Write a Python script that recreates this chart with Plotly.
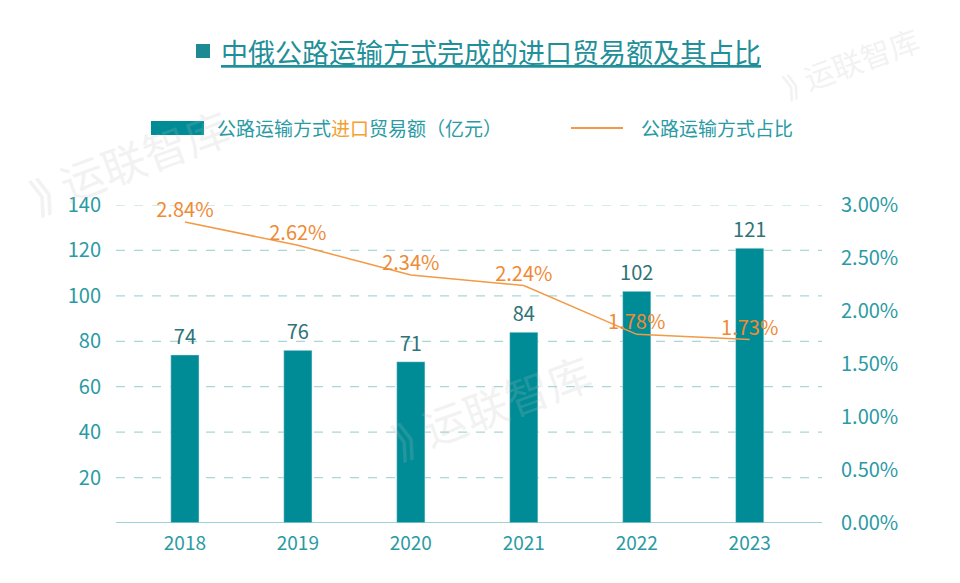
import plotly.graph_objects as go

years = ["2018", "2019", "2020", "2021", "2022", "2023"]
import_value = [74, 76, 71, 84, 102, 121]
road_share = [2.84, 2.62, 2.34, 2.24, 1.78, 1.73]
left_ticks = [20, 40, 60, 80, 100, 120, 140]
right_ticks = [0, 0.5, 1.0, 1.5, 2.0, 2.5, 3.0]

TEAL = "#008c96"
TEXT = "#2a9aa4"
ORANGE = "#f29a45"
LABEL_ORANGE = "#ef8a35"
FONT = "Noto Sans CJK SC"

OFF = 8  # page body margin
L, R, T, B = 116, 822, 205, 523  # screenshot pixel coords of the plot area
W, H = R - L, B - T


def px(x):
    return (x - L) / W


def py(y):
    return (B - y) / H


fig = go.Figure()
fig.add_trace(go.Bar(
    x=years, y=import_value, width=0.25, marker_color=TEAL,
    showlegend=False, yaxis="y", hoverinfo="skip",
))
# bar value labels
fig.add_trace(go.Scatter(
    x=years, y=import_value, mode="markers+text", yaxis="y",
    marker=dict(size=8, color="rgba(0,0,0,0)"),
    text=[str(v) for v in import_value], textposition="top center",
    textfont=dict(color="#2f7378", size=20, family=FONT), cliponaxis=False,
    showlegend=False, hoverinfo="skip",
))
fig.add_trace(go.Scatter(
    x=years, y=road_share, mode="lines+text", yaxis="y2",
    line=dict(color=ORANGE, width=1.5),
    text=[f"{v:.2f}%" for v in road_share], textposition="top center",
    textfont=dict(color=LABEL_ORANGE, size=20, family=FONT), cliponaxis=False,
    showlegend=False,
))

grid_color = "#a8d8d8"
shapes = []
for t in left_ticks:
    shapes.append(dict(type="line", xref="paper", yref="y", x0=0, x1=1, y0=t, y1=t,
                       line=dict(color=grid_color, width=1.2, dash="dash"), layer="below"))
shapes.append(dict(type="line", xref="paper", yref="y", x0=0, x1=1, y0=0, y1=0,
                   line=dict(color="#7cc4c8", width=1.5), layer="above"))
# title square
shapes.append(dict(type="rect", xref="paper", yref="paper",
                   x0=px(196), x1=px(210), y0=py(58), y1=py(44),
                   fillcolor="#1d8a93", line=dict(width=0)))
# custom legend markers
shapes.append(dict(type="rect", xref="paper", yref="paper",
                   x0=px(151), x1=px(204), y0=py(135), y1=py(121),
                   fillcolor=TEAL, line=dict(width=0)))
shapes.append(dict(type="line", xref="paper", yref="paper", x0=px(571), x1=px(623),
                   y0=py(128), y1=py(128), line=dict(color=ORANGE, width=1.8)))
fig.update_layout(shapes=shapes)

annotations = [
    dict(text="<u>中俄公路运输方式完成的进口贸易额及其占比</u>",
         xref="paper", yref="paper", x=px(219), y=py(51), xanchor="left", yanchor="middle",
         showarrow=False, font=dict(size=27, color="#1f8f99", family=FONT)),
    dict(text="公路运输方式<span style='color:#f5a030'>进口</span>贸易额（亿元）",
         xref="paper", yref="paper", x=px(215), y=py(128), xanchor="left", yanchor="middle",
         showarrow=False, font=dict(size=19, color=TEXT, family=FONT)),
    dict(text="公路运输方式占比",
         xref="paper", yref="paper", x=px(639), y=py(128), xanchor="left", yanchor="middle",
         showarrow=False, font=dict(size=19, color=TEXT, family=FONT)),
]
for (x, y, s) in [(128, 160, 44), (490, 405, 44), (850, 62, 30)]:
    annotations.append(dict(text="⟫ 运联智库", xref="paper", yref="paper",
                            x=px(x), y=py(y), xanchor="center", yanchor="middle",
                            showarrow=False, textangle=-20,
                            font=dict(size=s, color="rgba(190,190,190,0.2)", family=FONT)))
fig.update_layout(annotations=annotations)

fig.update_layout(
    width=960, height=583,
    margin=dict(l=L - OFF, r=960 - (R - OFF), t=T - OFF, b=583 - (B - OFF), autoexpand=False),
    plot_bgcolor="white", paper_bgcolor="white",
    xaxis=dict(type="category", range=[-0.61, 5.64], showgrid=False, showline=False,
               ticks="", ticklabelstandoff=7,
               tickfont=dict(size=19, color=TEXT, family=FONT)),
    yaxis=dict(range=[0, 140], tickvals=left_ticks, showgrid=False, zeroline=False,
               showline=False, ticks="", ticklabelstandoff=14,
               tickfont=dict(size=20, color=TEXT, family=FONT)),
    yaxis2=dict(range=[0, 3.0], overlaying="y", side="right", tickvals=right_ticks,
                ticktext=[f"{v:.2f}%" for v in right_ticks], showgrid=False, zeroline=False,
                showline=False, ticks="", ticklabelstandoff=18,
                tickfont=dict(size=20, color=TEXT, family=FONT)),
)
fig.write_html("out.html")
